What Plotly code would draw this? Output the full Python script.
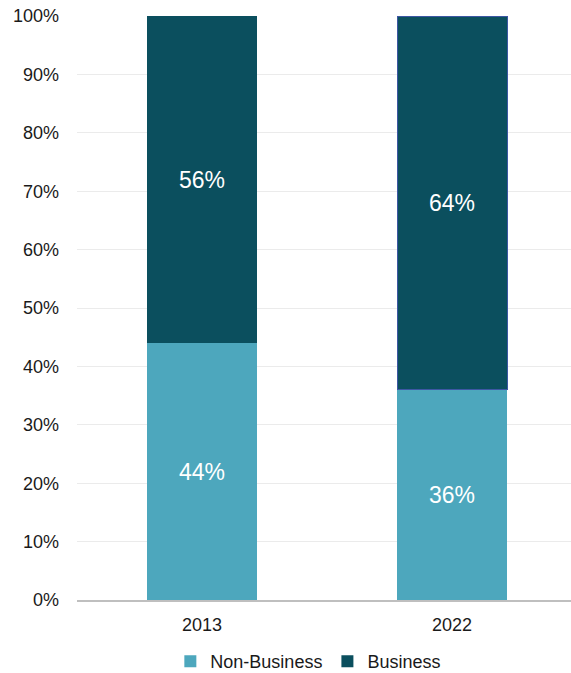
import plotly.graph_objects as go

years = ["2013", "2022"]
non_business = [44, 36]
business = [56, 64]

NON_BUS_COLOR = "#4DA7BD"
BUS_COLOR = "#0B4F5E"
FONT = "Liberation Sans"

fig = go.Figure()
fig.add_trace(go.Bar(
    x=years, y=non_business, name="Non-Business",
    marker=dict(color=NON_BUS_COLOR, line=dict(width=0)),
    text=[f"{v}%" for v in non_business], textposition="inside",
    insidetextanchor="middle",
    textfont=dict(color="white", size=23, family=FONT),
    width=0.44,
))
fig.add_trace(go.Bar(
    x=years, y=business, name="Business",
    marker=dict(color=BUS_COLOR,
                line=dict(width=[0, 1], color=["rgba(0,0,0,0)", "#3D57A3"])),
    text=[f"{v}%" for v in business], textposition="inside",
    insidetextanchor="middle",
    textfont=dict(color="white", size=23, family=FONT),
    width=0.44,
))

fig.update_layout(
    barmode="stack",
    width=571, height=673,
    margin=dict(l=77, r=0, t=16, b=73, autoexpand=False),
    paper_bgcolor="white", plot_bgcolor="white",
    font=dict(family=FONT, size=18, color="#1a1a1a"),
    uniformtext=dict(mode=False),
    showlegend=True,
    legend=dict(orientation="h", x=0.54, xanchor="center",
                xref="container", yref="container", y=0.017, yanchor="middle",
                font=dict(size=18), itemwidth=30, traceorder="normal",
                tracegroupgap=0),
    xaxis=dict(type="category", range=[-0.5, 1.476], showline=True,
               linecolor="#bfbfbf", linewidth=1.5, ticks="", showgrid=False,
               tickfont=dict(size=18), ticklabelstandoff=8),
    yaxis=dict(range=[0, 100], dtick=10, ticksuffix="%", showgrid=True,
               gridcolor="#ebebeb", gridwidth=1, zeroline=False, showline=False,
               tickfont=dict(size=18), ticklabelstandoff=17),
)

fig.write_html("out.html")
